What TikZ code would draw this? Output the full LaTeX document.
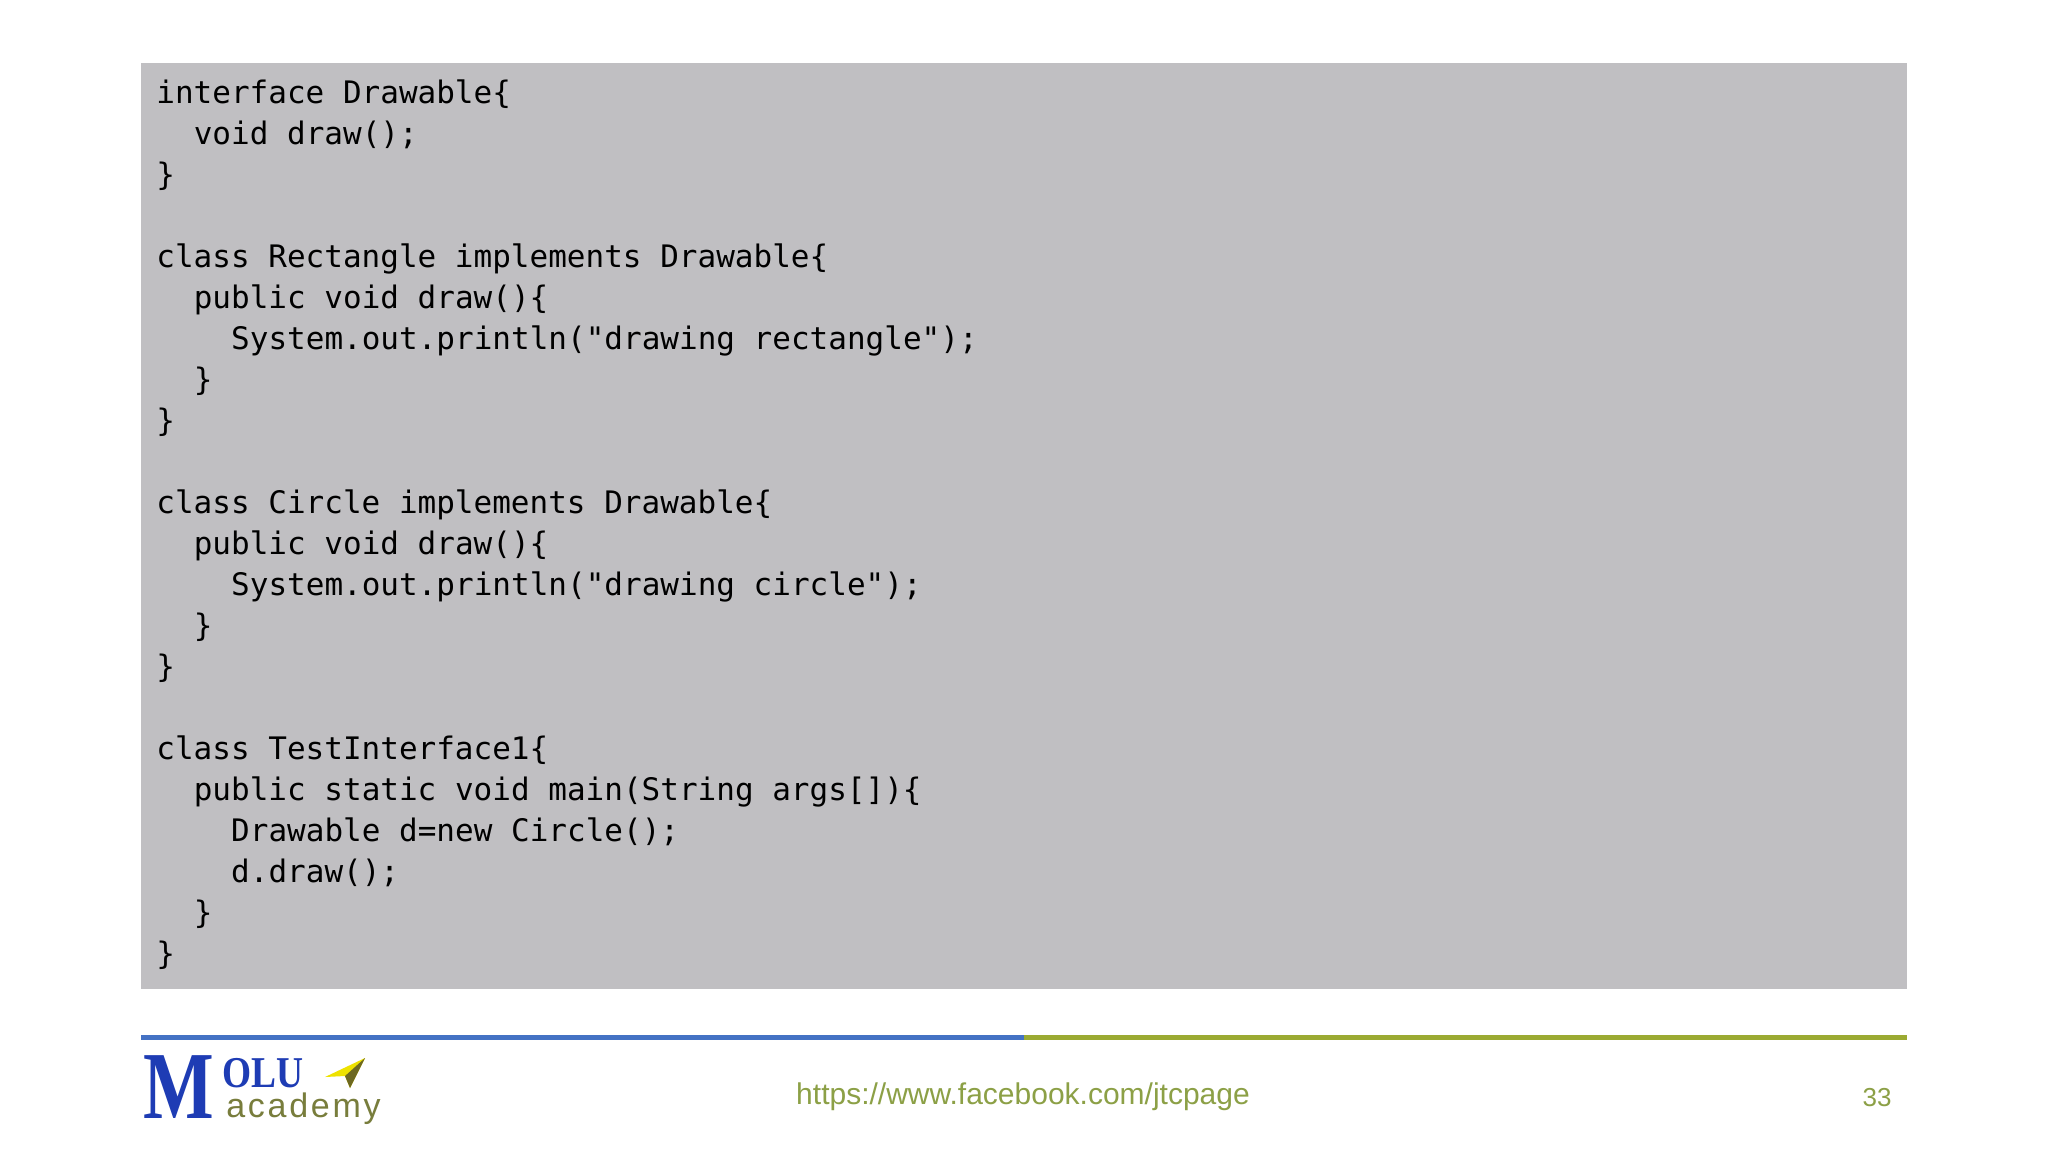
\documentclass[tikz,border=0pt]{standalone}
\usepackage{fontspec}
\newfontfamily\code{DejaVu Sans Mono}
\newfontfamily\sans{Liberation Sans}
\newfontfamily\acadfont[LetterSpace=8]{Liberation Sans}
\newfontfamily\serifb{Liberation Serif}
\definecolor{codebg}{RGB}{192,191,194}
\definecolor{lblue}{RGB}{68,114,196}
\definecolor{lolive}{RGB}{155,170,50}
\definecolor{urlc}{RGB}{140,160,70}
\definecolor{mblue}{RGB}{30,60,180}
\definecolor{acad}{RGB}{120,125,60}
\newcommand{\ind}[1]{\hspace*{#1\dimexpr 9.35pt\relax}}
\begin{document}
\begin{tikzpicture}[x=0.5pt,y=-0.5pt]
\useasboundingbox[fill=white] (0,0) rectangle (2048,1152);
\fill[codebg] (141,63) rectangle (1907,989);
\node[anchor=base west,inner sep=0,align=left,font=\code\fontsize{15.5}{20.5}\selectfont] (code) at (156,964) {%
interface Drawable\{\\
\ind2void draw();\\
\}\\
\mbox{}\\
class Rectangle implements Drawable\{\\
\ind2public void draw()\{\\
\ind4System.out.println("drawing rectangle");\\
\ind2\}\\
\}\\
\mbox{}\\
class Circle implements Drawable\{\\
\ind2public void draw()\{\\
\ind4System.out.println("drawing circle");\\
\ind2\}\\
\}\\
\mbox{}\\
class TestInterface1\{\\
\ind2public static void main(String args[])\{\\
\ind4Drawable d=new Circle();\\
\ind4d.draw();\\
\ind2\}\\
\}};
\draw[lblue,line width=2.5pt] (141,1037) -- (1024,1037);
\draw[lolive,line width=2.5pt] (1024,1037) -- (1907,1037);
\node[font=\sans\fontsize{15}{18}\selectfont,text=urlc] (url) at (1023,1097) {https://www.facebook.com/jtcpage};
\node[font=\sans\fontsize{13}{16}\selectfont,text=urlc] (pg) at (1877,1098) {33};
\node[font=\serifb\bfseries\fontsize{48}{48}\selectfont,text=mblue,inner sep=0,anchor=base west,xscale=0.78] (M) at (143,1118) {M};
\node[font=\serifb\bfseries\fontsize{22}{22}\selectfont,text=mblue,inner sep=0,anchor=base west,xscale=0.85] (olu) at (222,1087) {OLU};
\node[font=\acadfont\fontsize{17}{18}\selectfont,text=acad,inner sep=0,anchor=base west] (ac) at (226,1117) {academy};
\fill[yellow!85!olive] (325,1077) -- (365,1058) -- (350,1088) -- (345,1076) -- cycle;
\fill[olive!70!black] (345,1076) -- (365,1058) -- (350,1088) -- cycle;
\end{tikzpicture}
\end{document}
